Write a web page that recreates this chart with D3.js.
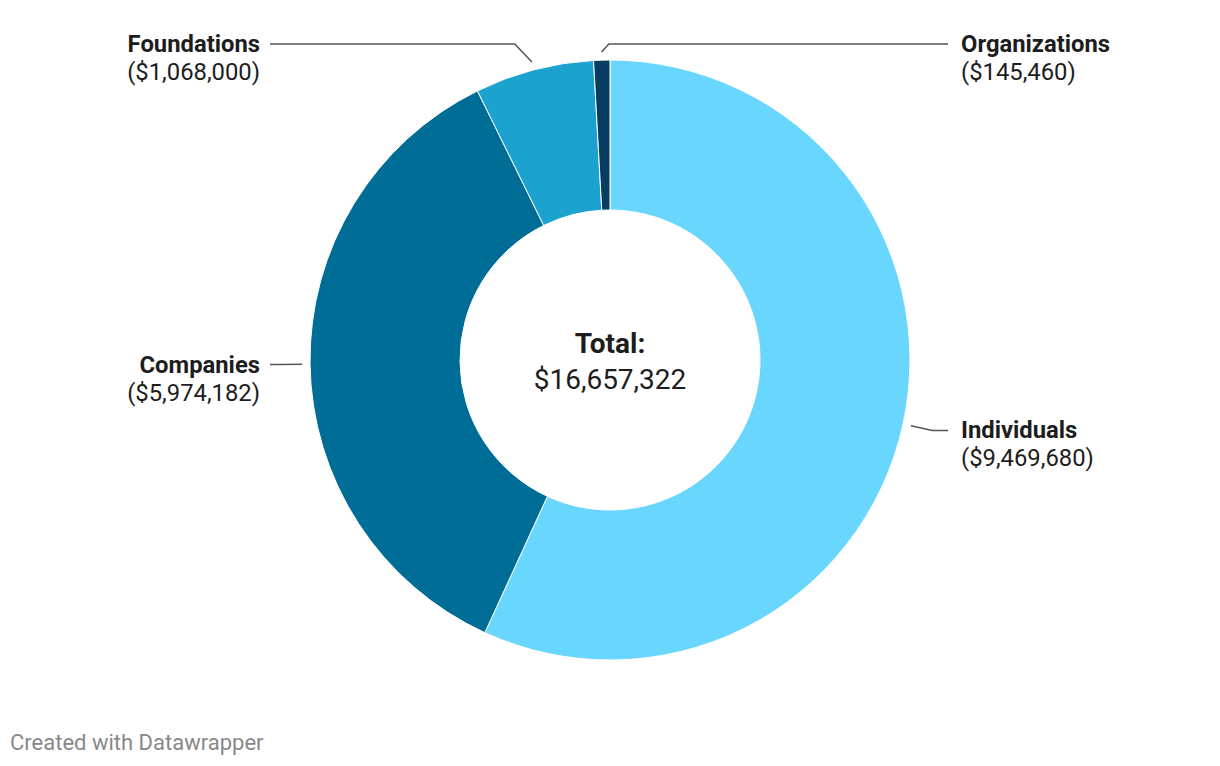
<!DOCTYPE html>
<html><head><meta charset="utf-8">
<script src="https://cdn.jsdelivr.net/npm/d3@7"></script>
<style>
body{margin:0;background:#fff;}
svg{display:block;font-family:Roboto,sans-serif;}
</style></head>
<body><svg id="c" width="1220" height="766"></svg>
<script>
const categories = ["Individuals","Companies","Foundations","Organizations"];
const values = [9469680, 5974182, 1068000, 145460];
const valueLabels = ["($9,469,680)","($5,974,182)","($1,068,000)","($145,460)"];
const colors = ["#68d6fd","#006d96","#1ba2cf","#073d62"];
const labelSides = ["right","left","left","right"];
const totalLabel = "$16,657,322";

const svg = d3.select("#c");
const cx = 610, cy = 360, R = 300, r = 150;
const g = svg.append("g").attr("transform",`translate(${cx},${cy})`);
const data = categories.map((c,i)=>({name:c,value:values[i],label:valueLabels[i],color:colors[i],side:labelSides[i]}));
const pie = d3.pie().value(d=>d.value).sort(null);
const arc = d3.arc().innerRadius(r).outerRadius(R);
const arcs = pie(data);
g.selectAll("path").data(arcs).join("path")
  .attr("d",arc).attr("fill",d=>d.data.color)
  .attr("stroke","#fff").attr("stroke-width",1);

const startArc = d3.arc().innerRadius(308).outerRadius(308);
const kneeArc = d3.arc().innerRadius(330).outerRadius(330);
const topY = 44;
const leftX = 260, rightX = 961;
arcs.forEach(a=>{
  const [px,py] = startArc.centroid(a);
  const [kx,ky] = kneeArc.centroid(a);
  const sx = cx+px, sy = cy+py;
  const right = a.data.side==="right";
  let knee, ly;
  if (cy+ky < topY+10) {
    ly = topY;
    const dy = sy - ly;
    knee = [right ? sx+dy*0.9 : sx-dy*0.95, ly];
  } else {
    ly = cy+ky;
    knee = [cx+kx, ly];
  }
  const endX = right ? rightX-13 : leftX+10;
  const pts = [[sx,sy],knee,[endX,ly]];
  svg.append("path").attr("d",d3.line()(pts)).attr("fill","none")
    .attr("stroke","#555").attr("stroke-width",1.5);
  const t = svg.append("text").attr("x",right?rightX:leftX).attr("y",ly+8)
    .attr("text-anchor",right?"start":"end").attr("fill","#1d1d1d")
    .style("font-size","23.8px");
  t.append("tspan").attr("font-weight",700).text(a.data.name);
  t.append("tspan").attr("x",right?rightX:leftX).attr("dy",28).text(a.data.label);
});

svg.append("text").attr("x",cx).attr("y",353).attr("text-anchor","middle")
  .attr("fill","#1d1d1d").attr("font-weight",700).style("font-size","28px").text("Total:");
svg.append("text").attr("x",cx).attr("y",389).attr("text-anchor","middle")
  .attr("fill","#1d1d1d").style("font-size","28px").text(totalLabel);

svg.append("text").attr("x",10).attr("y",750).attr("fill","#888")
  .style("font-size","22px").text("Created with Datawrapper");
</script></body></html>
